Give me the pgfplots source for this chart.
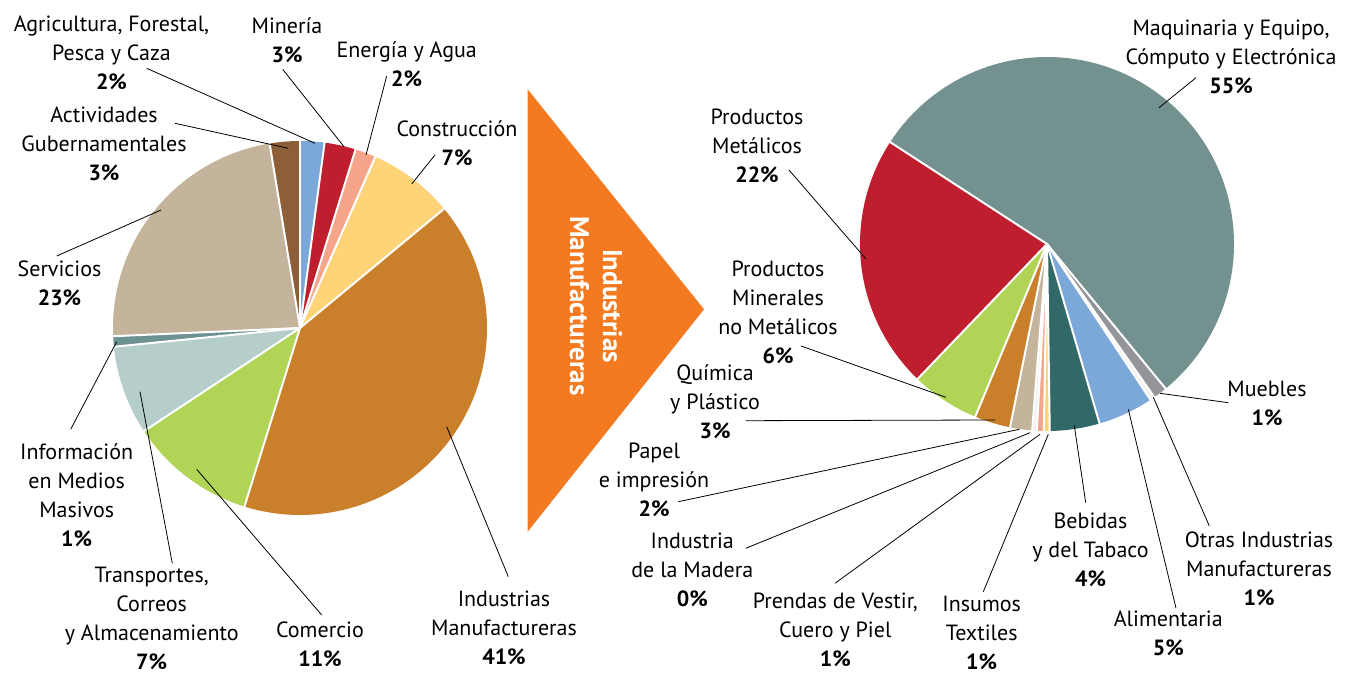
\documentclass[border=0pt]{standalone}
\usepackage{fontspec}
\setmainfont{PT Sans}
\usepackage{pgfplots}
\pgfplotsset{compat=1.18}
\definecolor{cBlue}{HTML}{7BA7D9}
\definecolor{cRed}{HTML}{BE1E2D}
\definecolor{cSalmon}{HTML}{F6A48A}
\definecolor{cYellow}{HTML}{FFD377}
\definecolor{cOrange}{HTML}{CA7F2A}
\definecolor{cGreen}{HTML}{B1D356}
\definecolor{cLight}{HTML}{B5CECB}
\definecolor{cTeal}{HTML}{6D9292}
\definecolor{cTan}{HTML}{C3B49B}
\definecolor{cBrown}{HTML}{8D5F38}
\definecolor{cGray}{HTML}{73918F}
\definecolor{cDark}{HTML}{316868}
\definecolor{cMueb}{HTML}{939598}
\definecolor{cPale}{HTML}{F2F2F2}
\definecolor{cTri}{HTML}{F37A21}
% #1 cx, #2 cy, #3 start angle, #4 direction (+1 ccw / -1 cw), #5 value/colour list
\newcommand\drawpie[5]{%
  \xdef\pieA{#3}%
  \foreach \v/\col in {#5}{%
    \pgfmathsetmacro\pieE{\pieA+#4*3.6*\v}%
    \edef\temp{\noexpand\fill[\col] (axis cs:#1,#2) -- ++(\pieA:187pt) arc[start angle=\pieA, end angle=\pieE, radius=187pt] -- cycle;}%
    \temp
    \xdef\pieA{\pieE}%
  }%
  \xdef\pieA{#3}%
  \foreach \v/\col in {#5}{%
    \edef\temp{\noexpand\draw[white, line width=2pt] (axis cs:#1,#2) -- ++(\pieA:189pt);}%
    \temp
    \pgfmathsetmacro\pieE{\pieA+#4*3.6*\v}%
    \xdef\pieA{\pieE}%
  }%
}
\tikzset{lab/.style={align=center, inner sep=0pt, font=\fontsize{22}{29}\selectfont},
  lead/.style={black, line width=0.8pt}}
\begin{document}
\begin{tikzpicture}
\begin{axis}[width=1348pt, height=673pt, scale only axis,
  xmin=0, xmax=1348, ymin=0, ymax=673, hide axis, clip=false]
\path (axis cs:0,0) (axis cs:1348,673);
% left pie: total economy (percent)
\drawpie{300}{345}{90}{-1}{2.1/cBlue, 2.7/cRed, 1.8/cSalmon, 7.4/cYellow, 40.8/cOrange, 10.9/cGreen, 7.7/cLight, 0.9/cTeal, 23.1/cTan, 2.6/cBrown}
% right pie: manufacturing (percent)
\drawpie{1047}{429}{147}{1}{22.0/cRed, 5.9/cGreen, 3.1/cOrange, 1.9/cTan, 0.4/cPale, 0.6/cSalmon, 0.5/cYellow, 4.3/cDark, 4.8/cBlue, 0.4/cPale, 1.2/cMueb, 54.9/cGray}
% arrow triangle
\addplot[fill=cTri, draw=none] coordinates {(527.7,583.7) (527.7,141.3) (704,363.7) (527.7,583.7)};
\node[rotate=-90, align=center, text=white, inner sep=0pt, font=\fontsize{27}{33}\selectfont\bfseries] at (axis cs:596,367) {Industrias\\Manufactureras};
% leader lines
\draw[lead] (axis cs:146.7,604.7) -- (axis cs:315,529.7);
\draw[lead] (axis cs:282.7,603.7) -- (axis cs:344,526.3);
\draw[lead] (axis cs:386.7,597) -- (axis cs:366,518);
\draw[lead] (axis cs:175,549.7) -- (axis cs:288.3,524.7);
\draw[lead] (axis cs:435,518) -- (axis cs:411.7,489);
\draw[lead] (axis cs:56.7,417) -- (axis cs:161,463);
\draw[lead] (axis cs:70.7,243.7) -- (axis cs:116.7,331.3);
\draw[lead] (axis cs:172.3,109.7) -- (axis cs:140,281.3);
\draw[lead] (axis cs:321.7,58) -- (axis cs:196.7,203.7);
\draw[lead] (axis cs:508.3,96.3) -- (axis cs:446.7,246.3);
\draw[lead] (axis cs:1196,595.3) -- (axis cs:1159,565.3);
\draw[lead] (axis cs:789,503) -- (axis cs:866,414);
\draw[lead] (axis cs:801,327) -- (axis cs:946,275.7);
\draw[lead] (axis cs:745.7,252.3) -- (axis cs:995,253);
\draw[lead] (axis cs:678.3,171.3) -- (axis cs:1019.3,243.7);
\draw[lead] (axis cs:745.7,124.7) -- (axis cs:1030,240.3);
\draw[lead] (axis cs:835,89.7) -- (axis cs:1040,238.7);
\draw[lead] (axis cs:983.3,81.3) -- (axis cs:1048.3,238.7);
\draw[lead] (axis cs:1085.7,170.3) -- (axis cs:1074.3,247.3);
\draw[lead] (axis cs:1176,64.7) -- (axis cs:1128.3,263.7);
\draw[lead] (axis cs:1209.3,147) -- (axis cs:1153.3,275.7);
\draw[lead] (axis cs:1228.3,270.3) -- (axis cs:1160,279.7);
% labels left
\node[lab] at (axis cs:111.5,620) {Agricultura, Forestal,\\Pesca y Caza\\\textbf{2\%}};
\node[lab] at (axis cs:287,632.5) {Minería\\\textbf{3\%}};
\node[lab] at (axis cs:406.7,608.3) {Energía y Agua\\\textbf{2\%}};
\node[lab] at (axis cs:104,529.1) {Actividades\\Gubernamentales\\\textbf{3\%}};
\node[lab] at (axis cs:457,530) {Construcción\\\textbf{7\%}};
\node[lab] at (axis cs:59.5,390) {Servicios\\\textbf{23\%}};
\node[lab] at (axis cs:76.7,178) {Información\\en Medios\\Masivos\\\textbf{1\%}};
\node[lab] at (axis cs:151.7,55) {Transportes,\\Correos\\y Almacenamiento\\\textbf{7\%}};
\node[lab] at (axis cs:320,29) {Comercio\\\textbf{11\%}};
\node[lab] at (axis cs:504,45.5) {Industrias\\Manufactureras\\\textbf{41\%}};
% labels right
\node[lab] at (axis cs:1231,616) {Maquinaria y Equipo,\\Cómputo y Electrónica\\\textbf{55\%}};
\node[lab] at (axis cs:757,527) {Productos\\Metálicos\\\textbf{22\%}};
\node[lab] at (axis cs:778,360.8) {Productos\\Minerales\\no Metálicos\\\textbf{6\%}};
\node[lab] at (axis cs:715,271.5) {Química\\y Plástico\\\textbf{3\%}};
\node[lab] at (axis cs:654,193) {Papel\\e impresión\\\textbf{2\%}};
\node[lab] at (axis cs:692.3,102.7) {Industria\\de la Madera\\\textbf{0\%}};
\node[lab] at (axis cs:835.3,43.5) {Prendas de Vestir,\\Cuero y Piel\\\textbf{1\%}};
\node[lab] at (axis cs:981.7,40) {Insumos\\Textiles\\\textbf{1\%}};
\node[lab] at (axis cs:1090.5,123) {Bebidas\\y del Tabaco\\\textbf{4\%}};
\node[lab] at (axis cs:1168.3,39.5) {Alimentaria\\\textbf{5\%}};
\node[lab] at (axis cs:1259,104) {Otras Industrias\\Manufactureras\\\textbf{1\%}};
\node[lab] at (axis cs:1267,269.2) {Muebles\\\textbf{1\%}};
\end{axis}
\end{tikzpicture}
\end{document}
